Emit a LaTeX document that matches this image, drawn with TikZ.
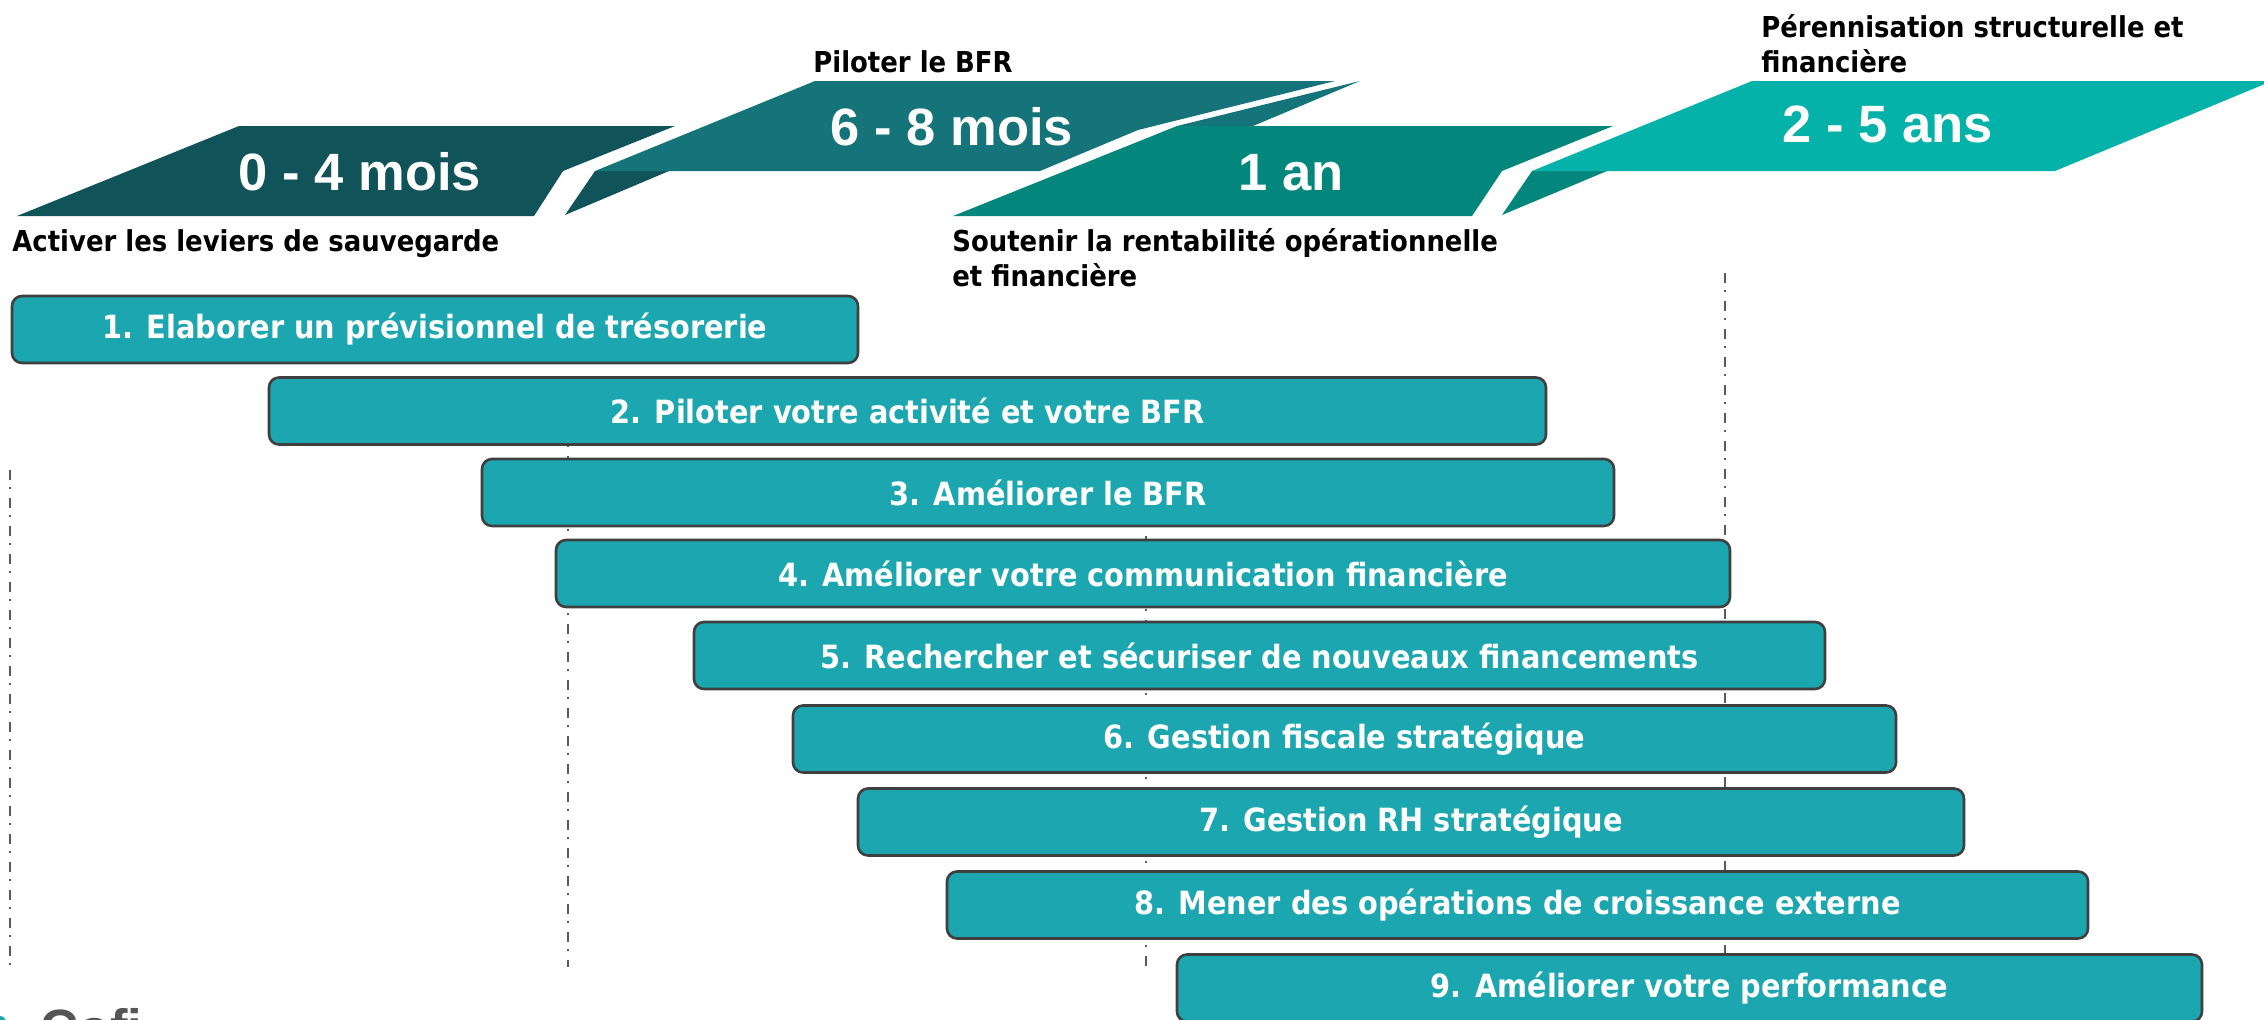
\documentclass[tikz,border=0pt]{standalone}
\usepackage{fontspec}
\setmainfont{DejaVu Sans}
\newfontfamily\barfont[FakeStretch=0.9]{DejaVu Sans}
\newfontfamily\banfont{Liberation Sans}
\definecolor{bA}{HTML}{10545A}
\definecolor{bB}{HTML}{147479}
\definecolor{bC}{HTML}{03877D}
\definecolor{bD}{HTML}{05B2AA}
\definecolor{barfill}{HTML}{1BA6B0}
\definecolor{barline}{HTML}{3F3F3F}
\definecolor{guide}{HTML}{5A5A5A}
\definecolor{logogray}{HTML}{555555}
\tikzset{
  barbox/.style={draw=barline, fill=barfill, line width=1.3pt, rounded corners=5pt,
    minimum height=33.5pt, inner sep=0pt, text=white,
    font=\barfont\bfseries\fontsize{16}{19}\selectfont},
  guideline/.style={draw=guide, line width=1pt, dash pattern=on 5pt off 3.5pt on 1pt off 4.5pt},
  headtxt/.style={anchor=base west, inner sep=0pt, align=left,
    font=\barfont\bfseries\fontsize{14.4}{17.5}\selectfont},
  bantxt/.style={anchor=base, inner sep=0pt, text=white,
    font=\banfont\bfseries\fontsize{26.25}{30}\selectfont}
}
\begin{document}
\begin{tikzpicture}[x=0.5pt,y=-0.5pt]
\useasboundingbox (0,0) rectangle (2264,1019);
\clip (0,0) rectangle (2264,1019);
% guide lines
\draw[guideline] (10,470) -- (10,967);
\draw[guideline] (568,400) -- (568,967);
\draw[guideline] (1146,480) -- (1146,967);
\draw[guideline] (1725,273) -- (1725,967);
% bars
\node[barbox, minimum width=423pt] (b1) at (435,329.5) {1. Elaborer un prévisionnel de trésorerie};
\node[barbox, minimum width=638.5pt] (b2) at (907.5,411) {2. Piloter votre activité et votre BFR};
\node[barbox, minimum width=566pt] (b3) at (1048,492.5) {3. Améliorer le BFR};
\node[barbox, minimum width=587pt] (b4) at (1143,573.5) {4. Améliorer votre communication financière};
\node[barbox, minimum width=565.5pt] (b5) at (1259.5,655.5) {5. Rechercher et sécuriser de nouveaux financements};
\node[barbox, minimum width=551.5pt] (b6) at (1344.5,739) {6. Gestion fiscale stratégique};
\node[barbox, minimum width=553pt] (b7) at (1411,822) {7. Gestion RH stratégique};
\node[barbox, minimum width=570.5pt] (b8) at (1517.5,905) {8. Mener des opérations de croissance externe};
\node[barbox, minimum width=512.5pt] (b9) at (1689.5,988) {9. Améliorer votre performance};
% banners
\fill[bA] (17,216) -- (239,126) -- (675,126) -- (563,171) -- (534,216) -- cycle;
\fill[bA] (595,171) -- (669,171) -- (565,215) -- cycle;
\fill[bB] (595,171) -- (815,81) -- (1335,81) -- (1138,130) -- (1040,171) -- cycle;
\fill[bB] (1177,126) -- (1360,81) -- (1253,126) -- cycle;
\fill[bC] (953,216) -- (1177,126) -- (1613,126) -- (1502,171) -- (1472,216) -- cycle;
\fill[bC] (1532,171) -- (1607,171) -- (1502,215) -- cycle;
\fill[bD] (1532,171) -- (1752,81) -- (2272,81) -- (2055,171) -- cycle;
\node[bantxt] (p1) at (360,190) {0 - 4 mois};
\node[bantxt] (p2) at (952,145) {6 - 8 mois};
\node[bantxt] (p3) at (1291,190) {1 an};
\node[bantxt] (p4) at (1888,142) {2 - 5 ans};
% headings
\node[headtxt] (h1) at (12,251) {Activer les leviers de sauvegarde};
\node[headtxt] (h2) at (813,72) {Piloter le BFR};
\node[headtxt] (h3) at (952,286) {Soutenir la rentabilité opérationnelle\\et financière};
\node[headtxt] (h4) at (1761,72) {Pérennisation structurelle et\\financière};
% logo fragment
\fill[barfill] (0,1022) circle (6);
\node[anchor=base west, inner sep=0pt, text=logogray, font=\banfont\bfseries\fontsize{26.25}{30}\selectfont] (logo) at (40,1046) {Cofi};
\end{tikzpicture}
\end{document}
